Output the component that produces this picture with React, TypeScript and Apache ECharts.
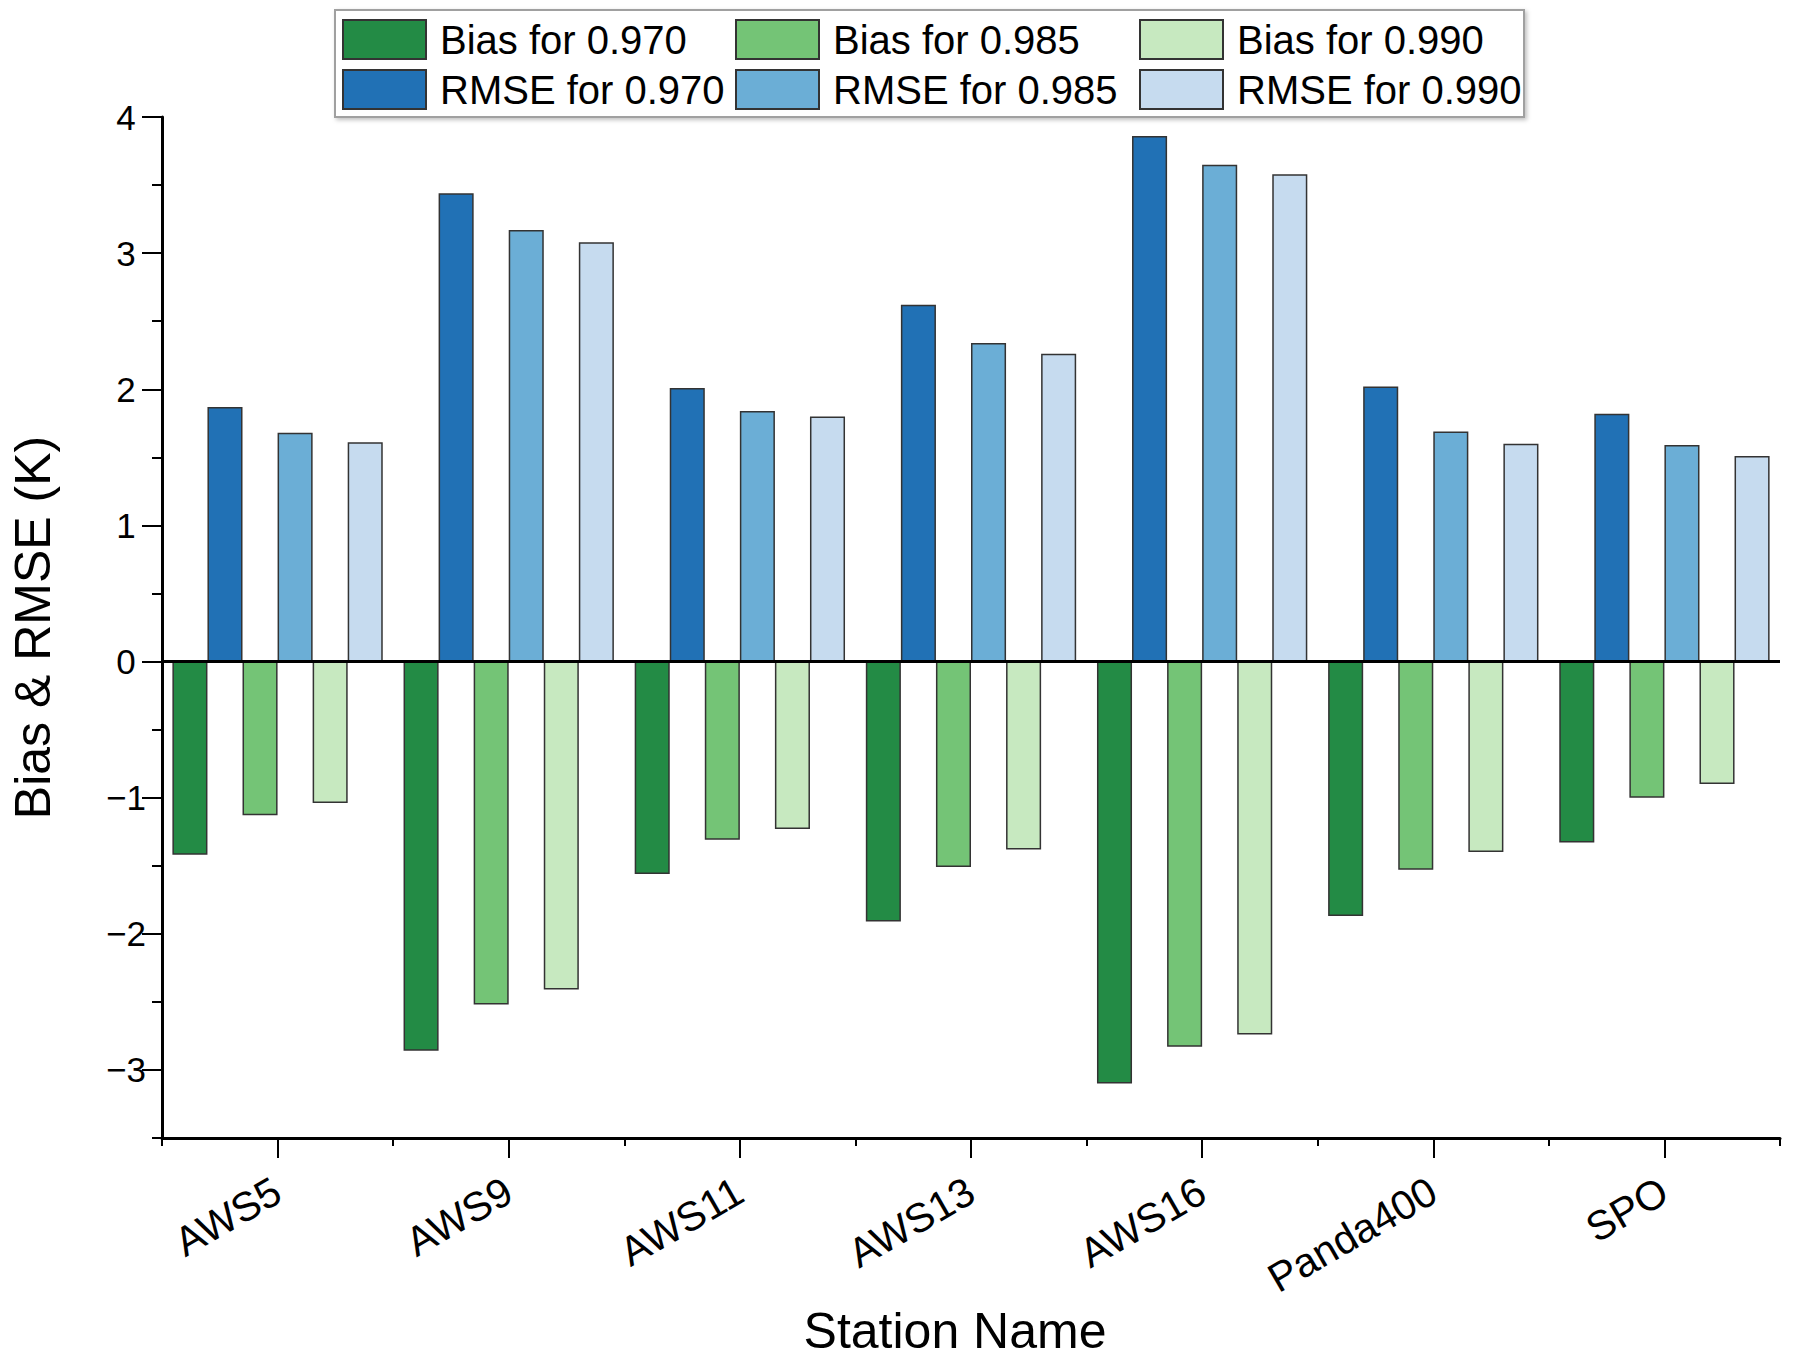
import React, { useEffect, useRef } from "react";
import * as echarts from "echarts";

const stations = ["AWS5", "AWS9", "AWS11", "AWS13", "AWS16", "Panda400", "SPO"];
const bias970 = [-1.42, -2.86, -1.56, -1.91, -3.1, -1.87, -1.33];
const rmse970 = [1.87, 3.44, 2.01, 2.62, 3.86, 2.02, 1.82];
const bias985 = [-1.13, -2.52, -1.31, -1.51, -2.83, -1.53, -1.0];
const rmse985 = [1.68, 3.17, 1.84, 2.34, 3.65, 1.69, 1.59];
const bias990 = [-1.04, -2.41, -1.23, -1.38, -2.74, -1.4, -0.9];
const rmse990 = [1.61, 3.08, 1.8, 2.26, 3.58, 1.6, 1.51];

const majorTicks = [-3, -2, -1, 0, 1, 2, 3, 4];
const minorTicks = [-3.5, -2.5, -1.5, -0.5, 0.5, 1.5, 2.5, 3.5];
const categoryCenters = [0.5, 1.5, 2.5, 3.5, 4.5, 5.5, 6.5];

const seriesDefs = [
  { name: "Bias for 0.970", data: bias970, color: "#238b45" },
  { name: "RMSE for 0.970", data: rmse970, color: "#2171b5" },
  { name: "Bias for 0.985", data: bias985, color: "#74c476" },
  { name: "RMSE for 0.985", data: rmse985, color: "#6baed6" },
  { name: "Bias for 0.990", data: bias990, color: "#c7e9c0" },
  { name: "RMSE for 0.990", data: rmse990, color: "#c6dbef" },
];

const FONT = "'Liberation Sans', Arial, sans-serif";

export default function App() {
  const ref = useRef<HTMLDivElement>(null);
  useEffect(() => {
    if (!ref.current) return;
    const chart = echarts.init(ref.current, null, { renderer: "svg" });
    const legendCommon = {
      orient: "vertical",
      top: 19,
      itemWidth: 83,
      itemHeight: 39,
      itemGap: 9,
      padding: 0,
      icon: "rect",
      textStyle: { fontSize: 40, color: "#000", fontFamily: FONT, padding: [0, 0, 0, 9] },
    };
    const option: any = {
      animation: false,
      backgroundColor: "#fff",
      textStyle: { fontFamily: FONT },
      grid: { left: 161, right: 19, top: 117, bottom: 233, containLabel: false },
      graphic: [
        {
          type: "rect",
          shape: { x: 335, y: 10, width: 1189, height: 107 },
          style: {
            fill: "#fff",
            stroke: "#a0a0a0",
            lineWidth: 2,
            shadowBlur: 4,
            shadowOffsetX: 2,
            shadowOffsetY: 2,
            shadowColor: "rgba(0,0,0,0.25)",
          },
          z: 0,
        },
      ],
      legend: [
        { ...legendCommon, left: 342, data: ["Bias for 0.970", "RMSE for 0.970"] },
        { ...legendCommon, left: 735, data: ["Bias for 0.985", "RMSE for 0.985"] },
        { ...legendCommon, left: 1139, data: ["Bias for 0.990", "RMSE for 0.990"] },
      ],
      xAxis: [
        {
          type: "category",
          data: stations,
          position: "bottom",
          axisLine: { onZero: false, lineStyle: { color: "#000", width: 3 } },
          axisTick: { show: true, length: 8, lineStyle: { color: "#000", width: 2 } },
          axisLabel: { rotate: 30, fontSize: 41, color: "#000", margin: 50, fontFamily: FONT, padding: [0, 0, 0, 0] },
          name: "Station Name",
          nameLocation: "middle",
          nameGap: 168,
          nameTextStyle: { fontSize: 50, color: "#000", fontFamily: FONT, padding: [0, 32, 0, 0] },
        },
        {
          type: "value",
          min: 0,
          max: 7,
          interval: 1,
          position: "bottom",
          splitLine: { show: false },
          axisLine: { show: false, onZero: false },
          axisTick: { show: true, length: 20, customValues: categoryCenters, lineStyle: { color: "#000", width: 2 } },
          axisLabel: { show: false },
        },
      ],
      yAxis: [
        {
          type: "value",
          min: -3.5,
          max: 4,
          interval: 0.5,
          position: "left",
          splitLine: { show: false },
          axisLine: { show: true, lineStyle: { color: "#000", width: 3 } },
          axisTick: { show: true, length: 20, customValues: majorTicks, lineStyle: { color: "#000", width: 2 } },
          axisLabel: {
            customValues: majorTicks,
            fontSize: 35,
            color: "#000",
            margin: 36,
            align: "center",
            fontFamily: FONT,
            formatter: (v: number) => (v < 0 ? "\u2212" + Math.abs(v) : String(v)),
          },
          name: "Bias & RMSE (K)",
          nameLocation: "middle",
          nameGap: 104,
          nameTextStyle: { fontSize: 50, color: "#000", fontFamily: FONT },
        },
        {
          type: "value",
          min: -3.5,
          max: 4,
          interval: 0.5,
          position: "left",
          splitLine: { show: false },
          axisLine: { show: false },
          axisTick: { show: true, length: 10, customValues: minorTicks, lineStyle: { color: "#000", width: 2 } },
          axisLabel: { show: false },
        },
      ],
      series: seriesDefs.map((s, i) => ({
        type: "bar",
        name: s.name,
        data: s.data,
        xAxisIndex: 0,
        yAxisIndex: 0,
        barGap: "0%",
        barCategoryGap: "9%",
        itemStyle: { color: s.color, borderColor: "#333", borderWidth: 1.5 },
        markLine:
          i === 5
            ? {
                silent: true,
                symbol: "none",
                label: { show: false },
                lineStyle: { color: "#000", width: 3, type: "solid" },
                data: [{ yAxis: 0 }],
              }
            : undefined,
      })),
    };
    chart.setOption(option);
    return () => chart.dispose();
  }, []);
  return (
    <div
      ref={ref}
      style={{ position: "fixed", left: 0, top: 0, width: 1799, height: 1371, background: "#fff" }}
    />
  );
}
